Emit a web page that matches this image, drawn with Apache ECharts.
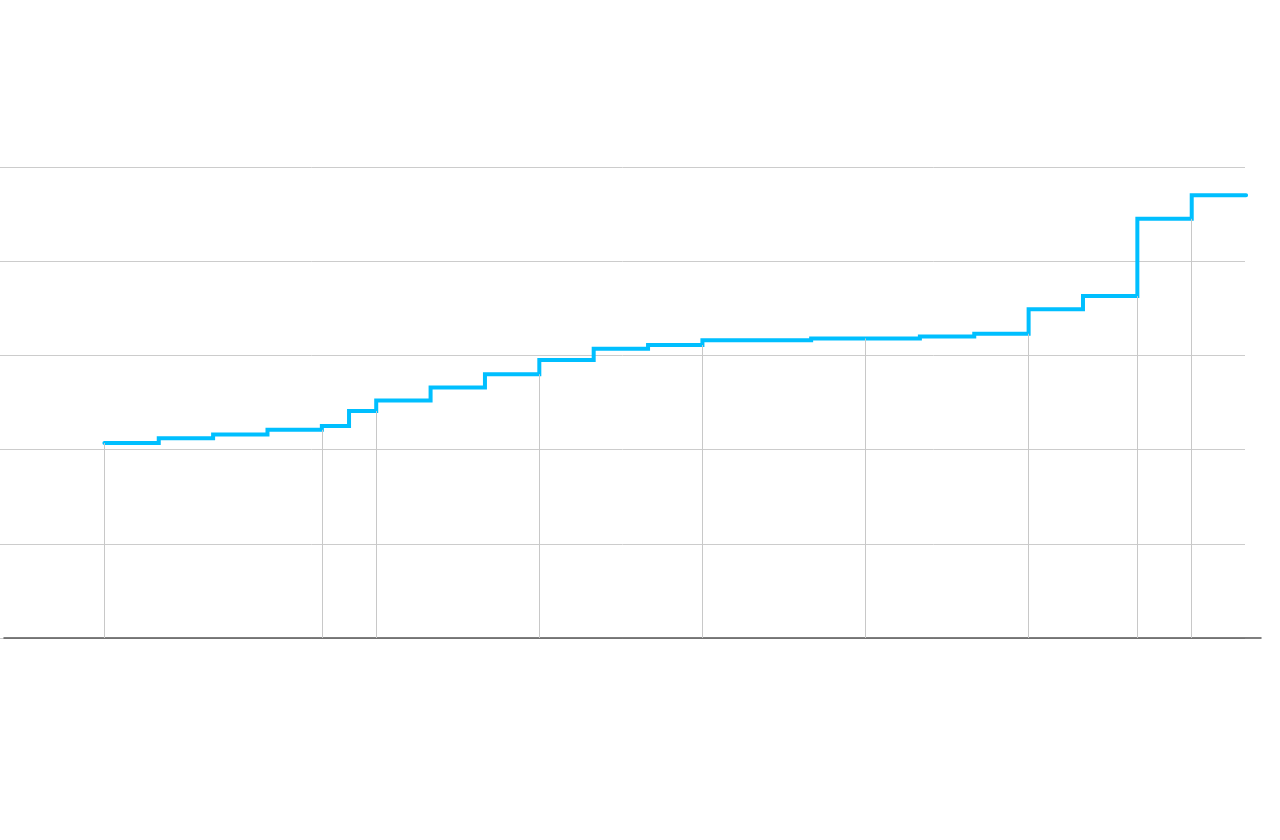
<!DOCTYPE html>
<html>
<head>
<meta charset="utf-8">
<style>
  html, body { margin: 0; padding: 0; background: #fff; }
  #chart { width: 1280px; height: 840px; }
</style>
<script src="https://cdn.jsdelivr.net/npm/echarts@6/dist/echarts.min.js"></script>
</head>
<body>
<div id="chart"></div>
<script>
// Step points (year, value) – each value holds until the next point
const years  = [2000, 2001, 2002, 2003, 2004, 2004.5, 2005, 2006, 2007, 2008, 2009, 2010, 2011, 2012, 2013, 2014, 2015, 2016, 2017, 2018, 2019, 2020, 2021];
const values = [20.7, 21.2, 21.6, 22.1, 22.5, 24.1,   25.2, 26.6, 28.0, 29.5, 30.7, 31.1, 31.6, 31.6, 31.8, 31.8, 32.0, 32.3, 34.9, 36.3, 44.5, 47.0, 47.0];
// Years that get a drop line down to the baseline
const markerYears = [2000, 2004, 2005, 2008, 2011, 2014, 2017, 2019, 2020];
const yTicks = [0, 10, 20, 30, 40, 50];

const X_MIN = 1998.08, X_MAX = 2020.98;

const lineData = years.map((y, i) => [y, values[i]]);

// drop line height = level of the step just before the marker year
function levelBefore(yr) {
  let v = values[0];
  for (let i = 0; i < years.length; i++) {
    if (years[i] < yr) v = values[i];
  }
  return v;
}
const dropLines = markerYears.map(yr => [
  { coord: [yr, 0] },
  { coord: [yr, levelBefore(yr)] }
]);

// step line drawn as one polyline through the axis scales
function renderStep(params, api) {
  if (params.dataIndex !== 0) return null;
  const pts = [];
  for (let i = 0; i < years.length; i++) {
    if (i > 0) pts.push(api.coord([years[i], values[i - 1]]));
    pts.push(api.coord([years[i], values[i]]));
  }
  return {
    type: 'polyline',
    shape: { points: pts },
    style: { stroke: '#00bfff', lineWidth: 4, fill: null, lineCap: 'round', lineJoin: 'miter' },
    silent: true
  };
}

const chart = echarts.init(document.getElementById('chart'), null, { renderer: 'canvas' });
chart.setOption({
  animation: false,
  backgroundColor: '#ffffff',
  grid: [
    { left: 0, right: 35, top: 167, bottom: 202 },
    { left: 4, right: 19, top: 167, bottom: 202 }
  ],
  xAxis: [
    {
      type: 'value', gridIndex: 0, min: X_MIN, max: X_MAX,
      axisLine: { show: false }, axisTick: { show: false },
      axisLabel: { show: false }, splitLine: { show: false }
    },
    {
      type: 'value', gridIndex: 1, min: 0, max: 1,
      axisLine: { show: true, lineStyle: { color: '#555', width: 1.5 } },
      axisTick: { show: false }, axisLabel: { show: false }, splitLine: { show: false }
    }
  ],
  yAxis: [
    {
      type: 'value', gridIndex: 0, min: yTicks[0], max: yTicks[yTicks.length - 1], interval: 10,
      axisLine: { show: false }, axisTick: { show: false }, axisLabel: { show: false },
      splitLine: { show: true, lineStyle: { color: '#cccccc', width: 1 } }
    },
    {
      type: 'value', gridIndex: 1, min: 0, max: 1, show: false,
      splitLine: { show: false }
    }
  ],
  series: [
    {
      type: 'line', xAxisIndex: 0, yAxisIndex: 0, data: [], z: 1, silent: true,
      markLine: {
        silent: true, symbol: ['none', 'none'], animation: false,
        label: { show: false },
        lineStyle: { color: '#c8c8c8', width: 1, type: 'solid' },
        emphasis: { disabled: true },
        data: dropLines
      }
    },
    {
      type: 'custom', xAxisIndex: 0, yAxisIndex: 0, z: 3, clip: false, silent: true,
      data: lineData,
      encode: { x: 0, y: 1 },
      renderItem: renderStep
    }
  ]
});
</script>
</body>
</html>
